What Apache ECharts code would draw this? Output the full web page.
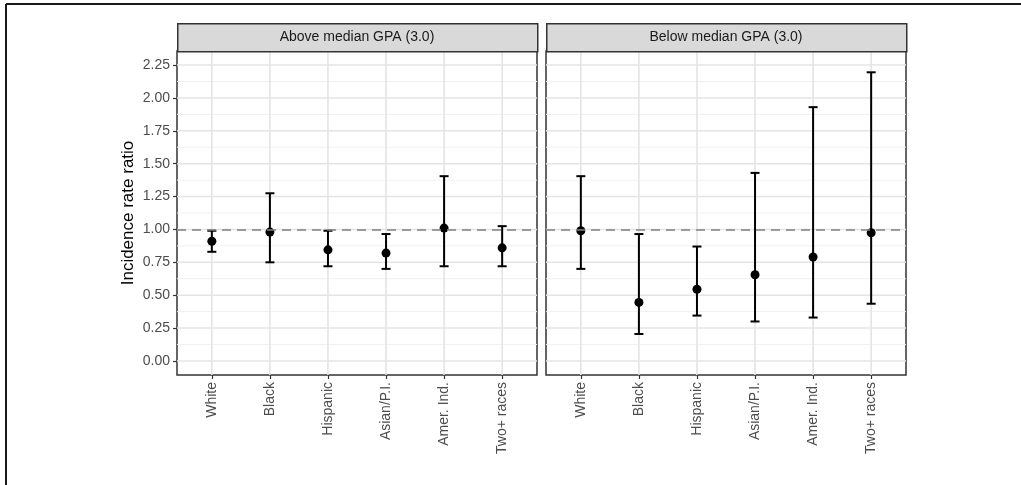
<!DOCTYPE html>
<html>
<head>
<meta charset="utf-8">
<script src="https://cdn.jsdelivr.net/npm/echarts@6/dist/echarts.min.js"></script>
<style>
  html, body { margin: 0; padding: 0; background: #fff; }
  #chart { width: 1021px; height: 485px; }
</style>
</head>
<body>
<div id="chart"></div>
<script>
// categories and facet titles
const categories = ['White', 'Black', 'Hispanic', 'Asian/P.I.', 'Amer. Ind.', 'Two+ races'];
const panelTitles = ['Above median GPA (3.0)', 'Below median GPA (3.0)'];

// estimates + 95% CI
const aboveEst  = [0.91, 0.98, 0.845, 0.82, 1.01, 0.86];
const aboveLow  = [0.83, 0.75, 0.72, 0.70, 0.72, 0.72];
const aboveHigh = [0.99, 1.275, 0.99, 0.965, 1.405, 1.025];

const belowEst  = [0.99, 0.445, 0.545, 0.655, 0.79, 0.975];
const belowLow  = [0.70, 0.205, 0.345, 0.30, 0.33, 0.435];
const belowHigh = [1.405, 0.965, 0.87, 1.43, 1.93, 2.195];

// tick labels / grid
const yMajor = [0, 0.25, 0.5, 0.75, 1, 1.25, 1.5, 1.75, 2, 2.25];
const yMinor = [0.125, 0.375, 0.625, 0.875, 1.125, 1.375, 1.625, 1.875, 2.125];
const xTicks = [1, 2, 3, 4, 5, 6];
const refLine = 1;

const Y_MIN = -0.107, Y_MAX = 2.357;
const X_MIN = 0.4, X_MAX = 6.6;

// panel layout (px)
const panels = [
  { left: 177, top: 51, width: 360, height: 324 },
  { left: 546, top: 51, width: 360, height: 324 }
];
const STRIP_H = 28;
const FONT = '"Liberation Sans", Arial, Helvetica, sans-serif';

const chart = echarts.init(document.getElementById('chart'));

function renderGrid(params, api) {
  const kind = api.value(2);
  let a, b;
  if (kind === 2) {
    const v = api.value(0);
    a = api.coord([v, Y_MIN]); b = api.coord([v, Y_MAX]);
  } else {
    const v = api.value(1);
    a = api.coord([X_MIN, v]); b = api.coord([X_MAX, v]);
  }
  return {
    type: 'line',
    shape: { x1: a[0], y1: a[1], x2: b[0], y2: b[1] },
    style: { stroke: kind === 1 ? '#f0f0f0' : '#e4e4e4', lineWidth: kind === 1 ? 1 : 1.6 }
  };
}

function renderErrorBar(params, api) {
  const x = api.value(0);
  const pLo = api.coord([x, api.value(1)]);
  const pHi = api.coord([x, api.value(2)]);
  const half = 4.5;
  const style = { stroke: '#000', lineWidth: 2 };
  return {
    type: 'group',
    children: [
      { type: 'line', shape: { x1: pLo[0], y1: pLo[1], x2: pHi[0], y2: pHi[1] }, style: style },
      { type: 'line', shape: { x1: pHi[0] - half, y1: pHi[1], x2: pHi[0] + half, y2: pHi[1] }, style: style },
      { type: 'line', shape: { x1: pLo[0] - half, y1: pLo[1], x2: pLo[0] + half, y2: pLo[1] }, style: style }
    ]
  };
}

const gridData = []
  .concat(yMajor.map(v => [X_MIN, v, 0]))
  .concat(yMinor.map(v => [X_MIN, v, 1]))
  .concat(xTicks.map(v => [v, 0, 2]));

const seriesSets = [
  { est: aboveEst, low: aboveLow, high: aboveHigh },
  { est: belowEst, low: belowLow, high: belowHigh }
];

const grids = [], xAxes = [], yAxes = [], series = [], graphics = [];

panels.forEach((p, i) => {
  grids.push({
    left: p.left, top: p.top, width: p.width, height: p.height,
    show: true, backgroundColor: '#fff', borderColor: '#333', borderWidth: 1.5,
    containLabel: false, outerBoundsMode: 'none'
  });
  xAxes.push({
    type: 'value', gridIndex: i, min: X_MIN, max: X_MAX, position: 'bottom',
    axisLine: { show: false, onZero: false },
    splitLine: { show: false },
    axisTick: { show: true, customValues: xTicks, length: 4, lineStyle: { color: '#333', width: 1.2 } },
    axisLabel: {
      customValues: xTicks, rotate: 90, margin: 7,
      color: '#4d4d4d', fontSize: 14, fontFamily: FONT,
      formatter: v => categories[Math.round(v) - 1] || ''
    }
  });
  yAxes.push({
    type: 'value', gridIndex: i, min: Y_MIN, max: Y_MAX, position: 'left',
    name: i === 0 ? 'Incidence rate ratio' : '',
    nameLocation: 'middle', nameGap: 40,
    nameTextStyle: { fontSize: 17, color: '#000', fontFamily: FONT },
    axisLine: { show: false, onZero: false },
    splitLine: { show: false },
    axisTick: { show: i === 0, customValues: yMajor, length: 4, lineStyle: { color: '#333', width: 1.2 } },
    axisLabel: {
      show: i === 0, customValues: yMajor, margin: 7,
      color: '#4d4d4d', fontSize: 14, fontFamily: FONT,
      formatter: v => v.toFixed(2)
    }
  });

  const s = seriesSets[i];
  series.push({
    type: 'custom', xAxisIndex: i, yAxisIndex: i, z: 1, silent: true,
    renderItem: renderGrid, data: gridData, encode: { x: 0, y: 1 }
  });
  series.push({
    type: 'custom', xAxisIndex: i, yAxisIndex: i, z: 2, silent: true,
    renderItem: renderErrorBar,
    data: categories.map((c, k) => [k + 1, s.low[k], s.high[k]]),
    encode: { x: 0, y: [1, 2] },
    markLine: {
      silent: true, symbol: 'none', label: { show: false },
      lineStyle: { color: '#808080', width: 1.5, type: [9, 6] },
      data: [{ yAxis: refLine }]
    }
  });
  series.push({
    type: 'scatter', xAxisIndex: i, yAxisIndex: i, z: 3, silent: true,
    symbol: 'circle', symbolSize: 9,
    itemStyle: { color: '#000', opacity: 1 },
    data: categories.map((c, k) => [k + 1, s.est[k]])
  });

  // facet strip
  graphics.push({
    type: 'rect', left: p.left, top: p.top - STRIP_H, z: 10,
    shape: { width: p.width, height: STRIP_H },
    style: { fill: '#d9d9d9', stroke: '#333', lineWidth: 1.5 }
  });
  graphics.push({
    type: 'text', x: p.left + p.width / 2, y: p.top - STRIP_H / 2, z: 11,
    style: {
      text: panelTitles[i], fill: '#1a1a1a', font: '14px ' + FONT,
      textAlign: 'center', textVerticalAlign: 'middle'
    }
  });
});

// frame lines at the top and left edges of the figure
graphics.push({ type: 'line', shape: { x1: 6, y1: 4, x2: 1021, y2: 4 }, style: { stroke: '#1a1a1a', lineWidth: 2 } });
graphics.push({ type: 'line', shape: { x1: 6, y1: 4, x2: 6, y2: 485 }, style: { stroke: '#1a1a1a', lineWidth: 2 } });

chart.setOption({
  backgroundColor: '#fff',
  animation: false,
  grid: grids,
  xAxis: xAxes,
  yAxis: yAxes,
  series: series,
  graphic: graphics
});
</script>
</body>
</html>
